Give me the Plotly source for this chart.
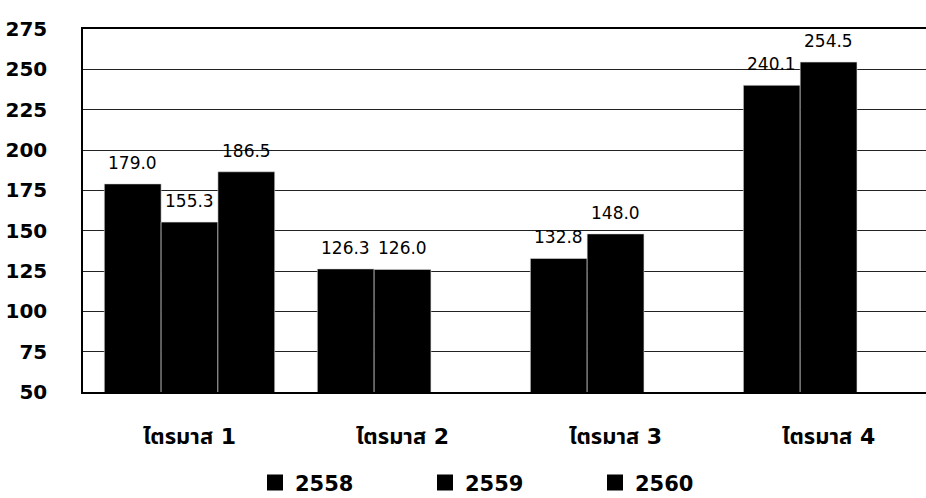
import plotly.graph_objects as go

categories = ["ไตรมาส 1", "ไตรมาส 2", "ไตรมาส 3", "ไตรมาส 4"]
series_names = ["2558", "2559", "2560"]
values_2558 = [179.0, 126.3, 132.8, 240.1]
values_2559 = [155.3, 126.0, 148.0, 254.5]
values_2560 = [186.5, None, None, None]
y_ticks = [50, 75, 100, 125, 150, 175, 200, 225, 250, 275]

all_values = [values_2558, values_2559, values_2560]

FONT = "DejaVu Sans, Noto Sans Thai, Tahoma, sans-serif"

fig = go.Figure()
for name, vals in zip(series_names, all_values):
    fig.add_trace(go.Bar(
        name=name,
        x=categories,
        y=vals,
        base=0,
        showlegend=False,
        marker=dict(color="black", line=dict(color="#dddddd", width=0.6)),
    ))

# legend entries with larger square swatches
for name in series_names:
    fig.add_trace(go.Scatter(
        name=name, x=[None], y=[None], mode="markers",
        marker=dict(symbol="square", size=16, color="black"),
        showlegend=True,
    ))

# value labels above bars
n = len(series_names)
group_w = 0.8
bar_w = group_w / n
for si, vals in enumerate(all_values):
    for ci, v in enumerate(vals):
        if v is None:
            continue
        xc = ci - group_w / 2 + bar_w * (si + 0.5)
        fig.add_annotation(
            x=xc, y=v, xref="x", yref="y",
            text=f"{v:.1f}", showarrow=False,
            yanchor="bottom", yshift=9,
            font=dict(family=FONT, size=17, color="black"),
        )

fig.update_layout(
    width=940, height=498,
    margin=dict(l=83, r=0, t=29, b=106, autoexpand=False),
    paper_bgcolor="white", plot_bgcolor="white",
    barmode="group", bargap=0.2, bargroupgap=0,
    font=dict(family=FONT, color="black"),
    showlegend=True,
    legend=dict(
        orientation="h", x=0.2007, xanchor="left", y=-0.25, yanchor="middle",
        entrywidth=125, entrywidthmode="pixels",
        font=dict(family=FONT, size=21, color="black", weight="bold"),
        traceorder="normal",
    ),
)
fig.update_xaxes(
    type="category",
    range=[-0.5, 3.523],
    showline=True, linecolor="black", linewidth=1.5, mirror=True,
    showgrid=False, ticks="", ticklabelstandoff=24,
    tickfont=dict(family=FONT, size=22, color="black", weight="bold"),
    automargin=False,
)
fig.update_yaxes(
    range=[50, 275], tickvals=y_ticks,
    showline=True, linecolor="black", linewidth=1.5,
    showgrid=True, gridcolor="#222222", gridwidth=1,
    ticks="", ticklabelstandoff=30,
    tickfont=dict(family=FONT, size=20, color="black", weight="bold"),
    zeroline=False, mirror=False, automargin=False,
)
fig.write_html(
    "out.html",
    config={"displayModeBar": False},
    post_script="document.body.style.margin='0';document.body.style.overflow='hidden';",
)
